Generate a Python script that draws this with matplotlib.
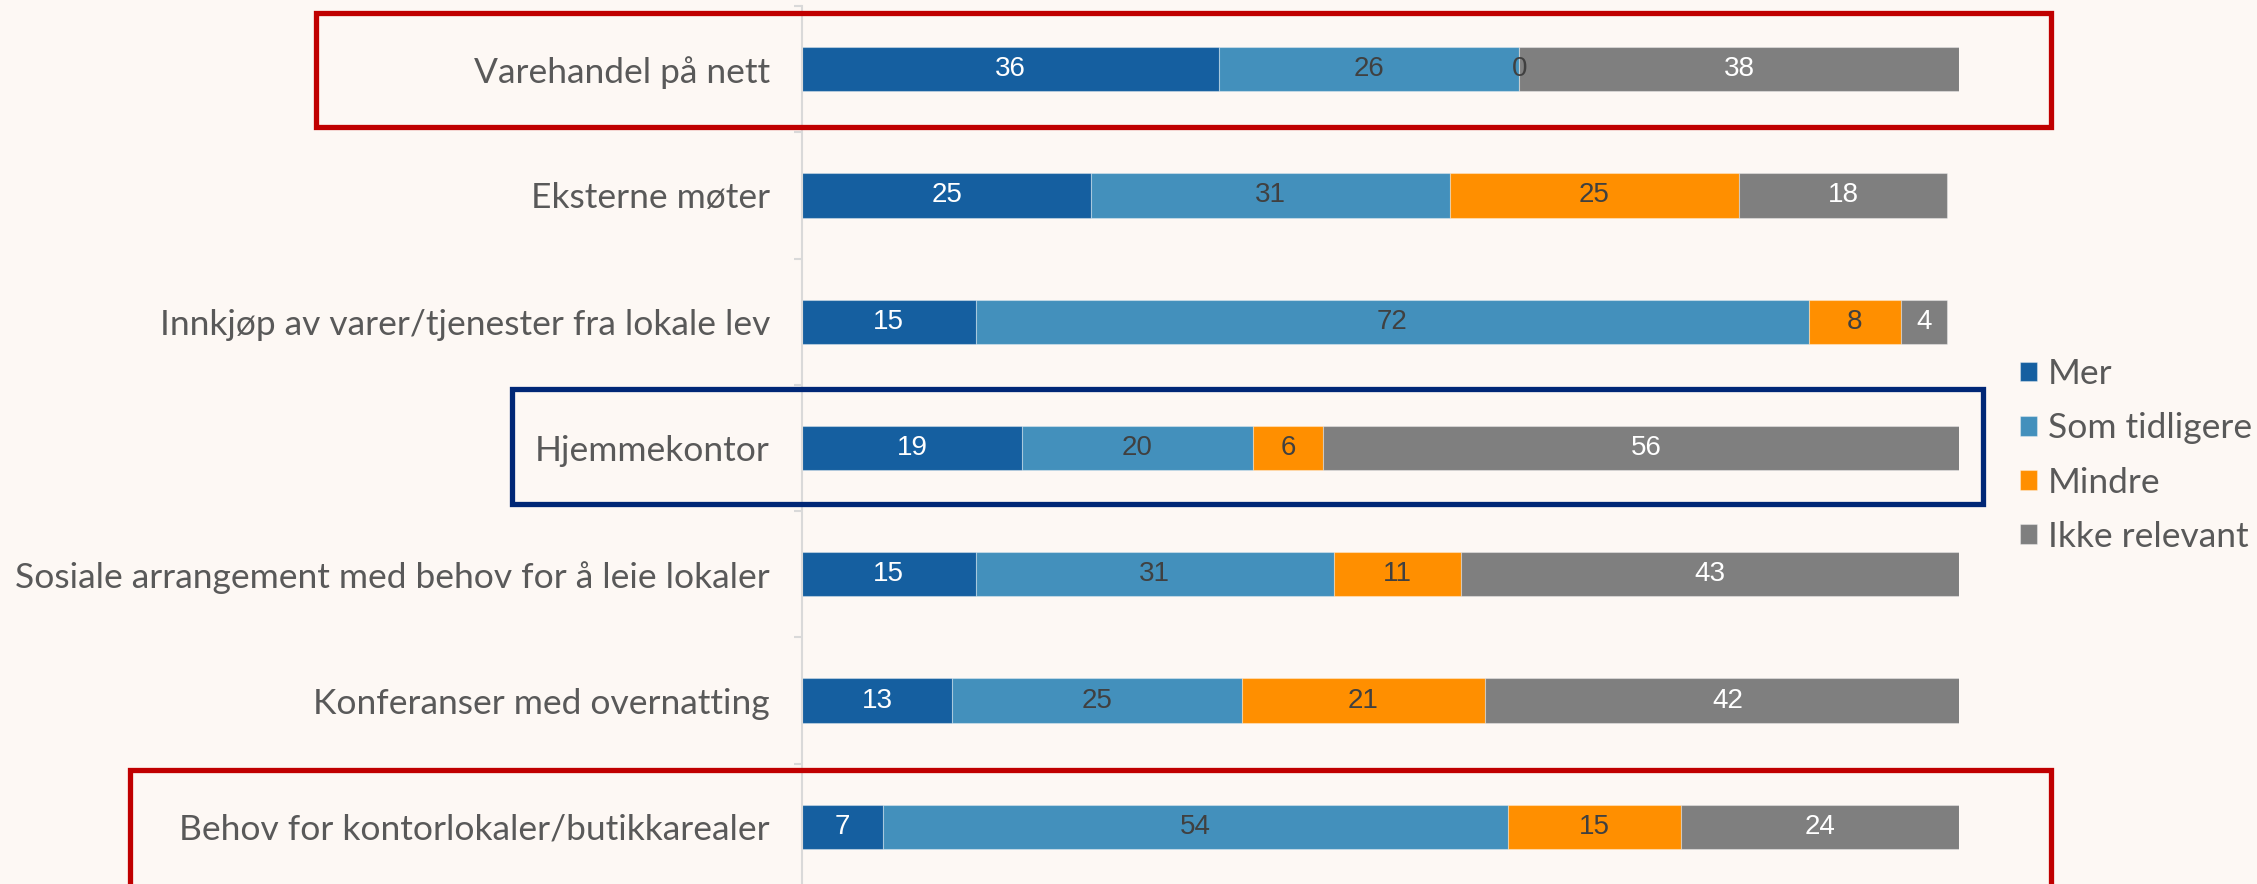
import matplotlib.pyplot as plt
import matplotlib.patches as mpatches
from matplotlib.ticker import FixedLocator
import numpy as np

categories = [
    "Varehandel på nett",
    "Eksterne møter",
    "Innkjøp av varer/tjenester fra lokale lev",
    "Hjemmekontor",
    "Sosiale arrangement med behov for å leie lokaler",
    "Konferanser med overnatting",
    "Behov for kontorlokaler/butikkarealer",
]
series_names = ["Mer", "Som tidligere", "Mindre", "Ikke relevant"]
mer = [36, 25, 15, 19, 15, 13, 7]
som_tidligere = [26, 31, 72, 20, 31, 25, 54]
mindre = [0, 25, 8, 6, 11, 21, 15]
ikke_relevant = [38, 18, 4, 56, 43, 42, 24]

colors = ["#155fa0", "#4390bc", "#ff8f00", "#7f7f7f"]
label_colors = ["white", "#404040", "#404040", "white"]
bg = "#fdf8f4"

W, H = 2257, 884
fig = plt.figure(figsize=(W / 100, H / 100), dpi=100, facecolor=bg)
# axes runs a little past the bottom edge, like the original
ax = fig.add_axes([802 / W, -6 / H, 1157 / W, 884 / H], facecolor=bg)

y = np.arange(len(categories))
left = np.zeros(len(categories))
for name, vals, col, lc in zip(series_names, [mer, som_tidligere, mindre, ikke_relevant], colors, label_colors):
    bars = ax.barh(y, vals, left=left, height=0.35, color=col, label=name,
                   edgecolor=(1, 1, 1, 0.35), linewidth=0.8)
    for b, v in zip(bars, vals):
        ax.text(b.get_x() + b.get_width() / 2, b.get_y() + b.get_height() / 2, str(v),
                ha="center", va="center", color=lc, fontsize=20,
                family="Liberation Sans")
    left += np.array(vals)

ax.set_ylim(len(categories) - 0.5, -0.5)
ax.set_xlim(0, 100)
ax.set_yticks(y)
ax.set_yticklabels(categories, fontsize=25.5, color="#595959", family="Lato")
ax.yaxis.set_minor_locator(FixedLocator(np.arange(-0.5, len(categories), 1)))
ax.tick_params(axis="y", which="major", length=0, pad=23)
ax.tick_params(axis="y", which="minor", length=6, width=1.5, color="#d9d9d9")
ax.set_xticks([])
for s in ["top", "right", "bottom"]:
    ax.spines[s].set_visible(False)
ax.spines["left"].set_color("#d9d9d9")
ax.spines["left"].set_linewidth(1.5)

# highlight boxes, in pixel coordinates of the figure
def box(x0, y0, x1, y1, color):
    r = mpatches.Rectangle((x0 / W, 1 - y1 / H), (x1 - x0) / W, (y1 - y0) / H,
                           transform=fig.transFigure, fill=False, edgecolor=color,
                           linewidth=3.8, clip_on=False)
    fig.patches.append(r)

box(316, 13, 2051, 127, "#c00000")
box(512, 389, 1983, 504, "#002776")
box(130, 770, 2051, 892, "#c00000")

leg = fig.legend(loc="upper left", bbox_to_anchor=(2020 / W, 1 - 358 / H),
                 frameon=False, fontsize=25.5, handlelength=0.48, handleheight=0.48,
                 handletextpad=0.3, labelspacing=0.63, borderaxespad=0, borderpad=0)
for t in leg.get_texts():
    t.set_color("#595959")
    t.set_family("Lato")

fig.savefig("out.png", dpi=100, facecolor=bg)
